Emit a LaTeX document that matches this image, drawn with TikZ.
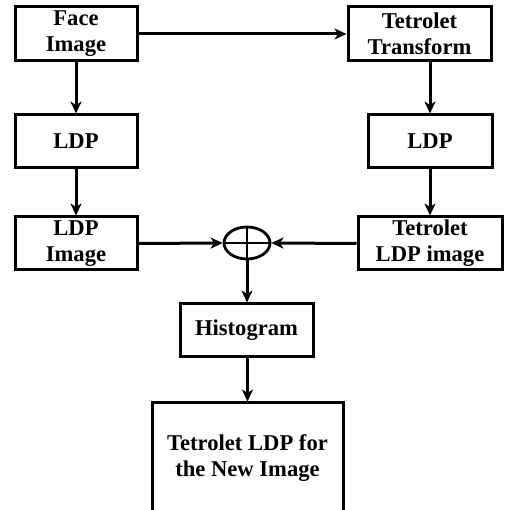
\documentclass[tikz,border=0pt]{standalone}
\usepackage{fontspec}
\setmainfont{Liberation Serif}
\usepackage{tikz}
\usetikzlibrary{shapes.geometric, arrows.meta, positioning, calc}

\tikzset{
  %% ---- boxes ----
  stepbox/.style = {rectangle, draw=black, line width=3pt, fill=white,
                    minimum width=#1, minimum height=53pt, inner sep=0pt,
                    align=center, font=\fontsize{22.6}{26}\selectfont\bfseries},
  stepbox/.default = 122pt,
  sumnode/.style = {ellipse, draw=black, line width=2.8pt, fill=white,
                    minimum width=46pt, minimum height=32pt, inner sep=0pt,
                    path picture={
                      \draw[line width=2.8pt]
                        (path picture bounding box.north) -- (path picture bounding box.south)
                        (path picture bounding box.west) -- (path picture bounding box.east);}},
  %% ---- arrows ----
  arrow/.style = {-{Stealth[length=12pt, width=11pt, inset=3.5pt]}, line width=3pt},
}

\begin{document}
\begin{tikzpicture}[x=1pt, y=-1pt]

  \useasboundingbox (0,0) rectangle (512,510);
  \clip (0,0) rectangle (512,510);

  %% left branch
  \node[stepbox, minimum height=54pt] (face) at (76,34) {Face\\Image};
  \node[stepbox] (ldpl) at (76,141.5) {LDP};
  \node[stepbox] (ldpimg) at (76,243.5) {LDP\\Image};

  %% right branch
  \node[stepbox=143pt, minimum height=54pt] (tetro) at (419.5,34) {Tetrolet\\Transform};
  \node[stepbox=124pt] (ldpr) at (430,141.5) {LDP};
  \node[stepbox=144pt] (tetimg) at (430,243.5) {Tetrolet\\LDP image};

  %% merge and output
  \node[sumnode] (sum) at (247,243) {};
  \node[stepbox=133pt] (hist) at (246.5,330.5) {Histogram};
  \node[stepbox=191pt, minimum height=110pt] (final) at (247.5,458)
    {Tetrolet LDP for\\the New Image};

  %% connectors
  \draw[arrow] (face.east) -- (tetro.west);
  \draw[arrow] (face.south) -- (ldpl.north);
  \draw[arrow] (ldpl.south) -- (ldpimg.north);
  \draw[arrow] (ldpr.north |- tetro.south) -- (ldpr.north);
  \draw[arrow] (ldpr.south) -- (tetimg.north);
  \draw[arrow] (ldpimg.east) -- (sum.west);
  \draw[arrow] (tetimg.west) -- (sum.east);
  \draw[arrow] (sum.south) -- (sum.south |- hist.north);
  \draw[arrow] (hist.south -| final.north) -- (final.north);

\end{tikzpicture}
\end{document}
